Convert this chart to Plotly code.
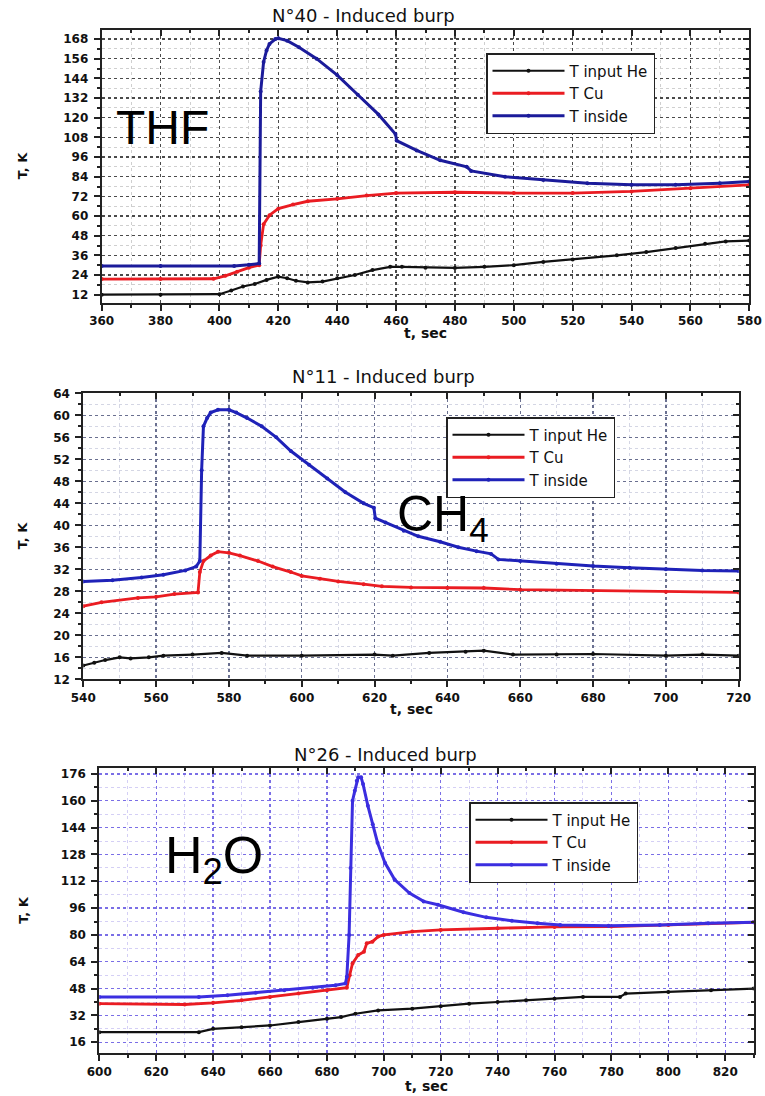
import plotly.graph_objects as go

W, H = 765, 1096

# ---------------- Data ----------------
# Panel 1: N°40 (THF)
p1_he_t = [360, 380, 400, 404, 408, 412, 416, 420, 423, 426, 430, 435, 440, 446, 452, 458, 462, 470, 480, 490, 500, 510, 520, 535, 545, 555, 565, 572, 580]
p1_he_v = [12, 12, 12.3, 14.5, 17, 18.5, 21, 23, 22, 20.5, 19.5, 20, 22, 24, 27, 29, 29, 28.5, 28.3, 29, 30, 32, 33.5, 36, 38, 40.5, 43, 44.5, 45]
p1_cu_t = [360, 380, 398, 402, 406, 410, 413.5, 414, 415, 417, 420, 425, 430, 440, 450, 460, 480, 500, 520, 540, 560, 580]
p1_cu_v = [21.5, 21.5, 21.7, 23.5, 26, 28.5, 30, 42, 55, 60.5, 64.5, 67, 69, 70.5, 72.5, 74, 74.5, 74, 74, 75, 77, 79]
p1_in_t = [360, 380, 405, 410, 413.5, 414, 415, 416, 417, 419, 420, 423, 427, 433, 440, 447, 454, 459.8, 460.2, 467, 475, 484, 485.5, 497, 510, 525, 540, 555, 570, 580]
p1_in_v = [29.5, 29.5, 29.5, 30.2, 31, 136, 154, 161, 165, 168, 168.5, 167, 163, 156, 146, 134, 122, 110, 106, 100, 94, 90, 87.5, 84, 82, 80, 79, 79, 80, 81]

# Panel 2: N°11 (CH4)
p2_he_t = [540, 543, 546, 550, 553, 558, 562, 570, 578, 585, 600, 620, 625, 635, 645, 650, 658, 670, 680, 700, 710, 720]
p2_he_v = [14.5, 15, 15.5, 16, 15.8, 16, 16.3, 16.5, 16.8, 16.3, 16.3, 16.5, 16.3, 16.8, 17, 17.2, 16.5, 16.5, 16.6, 16.3, 16.5, 16.3]
p2_cu_t = [540, 545, 555, 560, 565, 571.5, 572, 573, 575, 577, 580, 583, 588, 592, 597, 600, 605, 610, 617, 622, 630, 640, 650, 660, 680, 700, 720]
p2_cu_v = [25.3, 26, 26.8, 27, 27.5, 27.8, 31.5, 33.5, 34.5, 35.2, 35, 34.5, 33.5, 32.5, 31.5, 30.8, 30.3, 29.8, 29.3, 28.9, 28.7, 28.6, 28.6, 28.3, 28.1, 27.9, 27.8]
p2_in_t = [540, 548, 556, 562, 568, 571, 572, 572.5, 573, 574, 575, 577, 580, 582, 585, 589, 593, 597, 602, 607, 612, 617, 619.8, 620.2, 623, 628, 632, 638, 643, 648, 652, 654, 660, 670, 680, 690, 700, 710, 720]
p2_in_v = [29.8, 30, 30.5, 31, 31.8, 32.5, 33.5, 50, 58, 59.5, 60.5, 61, 61, 60.5, 59.5, 58, 56, 53.5, 51, 48.5, 46, 44, 43.2, 41.3, 40.5, 39, 38, 37, 36, 35.3, 34.8, 33.8, 33.5, 33, 32.6, 32.3, 32, 31.8, 31.7]

# Panel 3: N°26 (H2O)
p3_he_t = [600, 635, 640, 650, 660, 670, 680, 685, 690, 698, 710, 720, 730, 740, 750, 760, 770, 783, 785, 800, 815, 830]
p3_he_v = [22, 22, 24, 25, 26, 28, 30, 31, 33, 35, 36, 37.5, 39, 40, 41, 42, 43, 43, 45, 46, 47, 48]
p3_cu_t = [600, 630, 640, 650, 660, 670, 680, 687, 688, 689, 691, 693, 694, 696, 698, 700, 710, 720, 740, 760, 780, 800, 830]
p3_cu_v = [39, 38.5, 39.5, 41, 43, 45, 47, 48.5, 56, 63, 68, 70, 75, 76, 79, 80, 82, 83, 84, 84.8, 85, 86, 87.5]
p3_in_t = [600, 635, 645, 655, 665, 675, 683, 686.5, 687, 687.8, 688.3, 689, 689.8, 690.5, 691, 692, 692.7, 694.4, 696.1, 697.8, 700.4, 703.8, 709, 714, 719, 728, 736, 745, 754, 762, 779, 797, 814, 830]
p3_in_v = [43, 43, 44, 45.5, 47, 48.5, 50, 51, 55, 80, 120, 160, 166, 172, 174, 174, 170, 157, 146, 135, 123, 113, 105, 100, 98, 93.5, 90.5, 88.5, 87, 86, 85.5, 86, 87, 87.5]

series_names = ["T input He", "T Cu", "T inside"]
titles = ["N°40 - Induced burp", "N°11 - Induced burp", "N°26 - Induced burp"]
labels = ["THF", "CH<sub>4</sub>", "H<sub>2</sub>O"]

x_ranges = [[360, 580], [540, 720], [600, 830]]
y_ranges = [[7.1, 173.5], [12, 64], [9.4, 179.4]]
x_dticks = [20, 20, 20]
y_ticks0 = [12, 12, 16]
y_dticks = [12, 4, 16]

# ---------------- Layout geometry (window pixels) ----------------
boxes = [  # left, right, top, bottom
    (101.7, 749.3, 30.0, 302.7),
    (83.3, 738.7, 393.3, 679.3),
    (99.3, 753.7, 768.3, 1053.3),
]
def px(x):
    return x / W
def py(y):
    return 1 - y / H

blue_cols = ["#1b1b9a", "#1f22b8", "#3b2ee0"]
red_col = "#ea1c22"
black_col = "#111111"
major_grid = ["#4a4a4a", "#6a7090", "#7a6ee6"]
minor_grid = ["#cfcfcf", "#d4d6e4", "#d4cff5"]

data = [
    (p1_he_t, p1_he_v, p1_cu_t, p1_cu_v, p1_in_t, p1_in_v),
    (p2_he_t, p2_he_v, p2_cu_t, p2_cu_v, p2_in_t, p2_in_v),
    (p3_he_t, p3_he_v, p3_cu_t, p3_cu_v, p3_in_t, p3_in_v),
]

legend_pos = [(486, 53), (446, 417), (469, 802)]
legend_keys = ["legend", "legend2", "legend3"]

FONT = "DejaVu Sans, Liberation Sans, Arial, sans-serif"

fig = go.Figure()
layout = dict(
    template="none",
    width=W, height=H, autosize=False,
    margin=dict(l=0, r=0, t=0, b=0, pad=0),
    paper_bgcolor="white", plot_bgcolor="white",
    font=dict(family=FONT, color="#111"),
    annotations=[], showlegend=True, hovermode=False,
)

tickfont = dict(family=FONT, size=12, color="#111", weight="bold")

for i in range(3):
    n = i + 1
    xs = "" if n == 1 else str(n)
    xo = str(n + 3)
    he_t, he_v, cu_t, cu_v, in_t, in_v = data[i]
    cols = [black_col, red_col, blue_cols[i]]
    widths = [2.2, 2.8, 3.0]
    for name, tt, vv, c, w in zip(series_names, [he_t, cu_t, in_t], [he_v, cu_v, in_v], cols, widths):
        fig.add_trace(go.Scatter(
            x=tt, y=vv, name=name, mode="lines+markers",
            line=dict(color=c, width=w),
            marker=dict(color=c, size=4),
            xaxis="x" + xs, yaxis="y" + xs,
            legend=legend_keys[i],
        ))
    # empty trace so the overlay axes (inside ticks on top/right) are drawn
    fig.add_trace(go.Scatter(x=[], y=[], xaxis="x" + xo, yaxis="y" + xo,
                             showlegend=False, hoverinfo="skip"))

    l, r, t, b = boxes[i]
    xdom = [px(l), min(px(r), 1.0)]
    ydom = [py(b), py(t)]
    layout["xaxis" + xs] = dict(
        domain=xdom, range=x_ranges[i], anchor="y" + xs, automargin=False,
        tickmode="linear", tick0=x_ranges[i][0], dtick=x_dticks[i],
        ticks="outside", ticklen=6, tickwidth=2, tickcolor="#222",
        showline=True, linecolor="#222", linewidth=2, mirror=True,
        showgrid=True, gridcolor=major_grid[i], griddash="dot", gridwidth=1.3,
        minor=dict(dtick=x_dticks[i] / 2, ticks="outside", ticklen=3, tickwidth=2,
                   tickcolor="#222", showgrid=True, gridcolor=minor_grid[i],
                   griddash="dot", gridwidth=1),
        tickfont=tickfont, zeroline=False,
    )
    layout["yaxis" + xs] = dict(
        domain=ydom, range=y_ranges[i], anchor="x" + xs, automargin=False,
        tickmode="linear", tick0=y_ticks0[i], dtick=y_dticks[i],
        ticks="outside", ticklen=6, tickwidth=2, tickcolor="#222",
        showline=True, linecolor="#222", linewidth=2, mirror=True,
        showgrid=True, gridcolor=major_grid[i], griddash="dot", gridwidth=1.3,
        minor=dict(dtick=y_dticks[i] / 2, ticks="outside", ticklen=3, tickwidth=2,
                   tickcolor="#222", showgrid=True, gridcolor=minor_grid[i],
                   griddash="dot", gridwidth=1),
        tickfont=tickfont, zeroline=False, ticklabelstandoff=3,
    )
    layout["xaxis" + xo] = dict(
        domain=xdom, range=x_ranges[i], overlaying="x" + xs, side="top", anchor="y" + xo,
        automargin=False, tickmode="linear", tick0=x_ranges[i][0], dtick=x_dticks[i],
        ticks="inside", ticklen=6, tickwidth=2, tickcolor="#222",
        showticklabels=False, showgrid=False, showline=False, zeroline=False,
        minor=dict(dtick=x_dticks[i] / 2, ticks="inside", ticklen=3, tickwidth=2, tickcolor="#222"),
    )
    layout["yaxis" + xo] = dict(
        domain=ydom, range=y_ranges[i], overlaying="y" + xs, side="right", anchor="x" + xo,
        automargin=False, tickmode="linear", tick0=y_ticks0[i], dtick=y_dticks[i],
        ticks="inside", ticklen=6, tickwidth=2, tickcolor="#222",
        showticklabels=False, showgrid=False, showline=False, zeroline=False,
        minor=dict(dtick=y_dticks[i] / 2, ticks="inside", ticklen=3, tickwidth=2, tickcolor="#222"),
    )
    lx, ly = legend_pos[i]
    layout[legend_keys[i]] = dict(
        x=px(lx), y=py(ly), xanchor="left", yanchor="top",
        bordercolor="#222", borderwidth=1.5, bgcolor="white",
        font=dict(size=15, family=FONT, color="#111"),
        tracegroupgap=0, itemwidth=72,
    )

# titles, axis labels, big compound labels
title_pos = [(363, 15), (383, 377), (385, 754)]
xlab_y = [333, 709, 1086]
ylab_x = [22, 22, 24]
label_spec = [(162, 127, 48), (443, 517, 50), (214, 859, 52)]
for i in range(3):
    l, r, t, b = boxes[i]
    tx, ty = title_pos[i]
    layout["annotations"].append(dict(
        text=titles[i], x=px(tx), y=py(ty), xref="paper", yref="paper",
        showarrow=False, xanchor="center", yanchor="middle",
        font=dict(size=18, family=FONT, color="#111")))
    layout["annotations"].append(dict(
        text="t, sec", x=px((l + r) / 2), y=py(xlab_y[i]), xref="paper", yref="paper",
        showarrow=False, xanchor="center", yanchor="middle",
        font=dict(size=14, family=FONT, color="#111", weight="bold")))
    layout["annotations"].append(dict(
        text="T, K", x=px(ylab_x[i]), y=py((t + b) / 2), xref="paper", yref="paper",
        showarrow=False, xanchor="center", yanchor="middle", textangle=-90,
        font=dict(size=13, family=FONT, color="#111", weight="bold")))
    cx, cy, fs = label_spec[i]
    layout["annotations"].append(dict(
        text=labels[i], x=px(cx), y=py(cy), xref="paper", yref="paper",
        showarrow=False, xanchor="center", yanchor="middle",
        font=dict(size=fs, family="Liberation Sans, Arial, sans-serif", color="#000")))

fig.update_layout(**layout)
# remove the default 8 px page margin so the 765x1096 figure fills the window exactly
fig.write_html(
    "out.html",
    config={"displayModeBar": False, "staticPlot": True},
    post_script="document.body.style.margin='0px';document.body.style.overflow='hidden';",
)
